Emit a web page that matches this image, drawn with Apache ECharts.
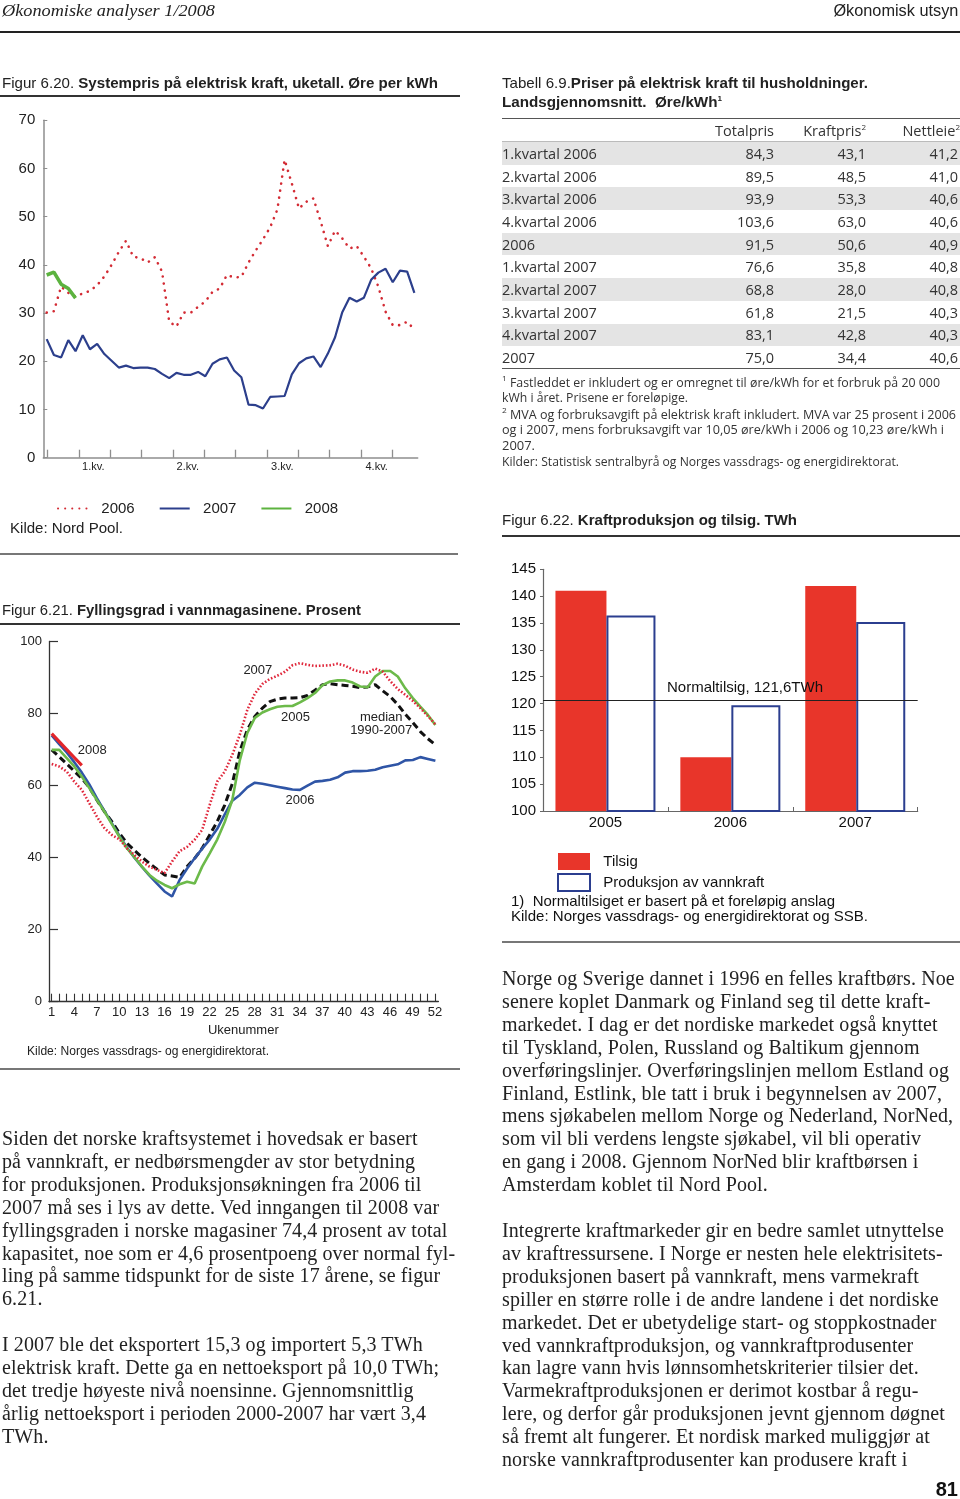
<!DOCTYPE html>
<html><head><meta charset="utf-8">
<script src="https://cdn.jsdelivr.net/npm/echarts@6/dist/echarts.min.js"></script>
<style>
html,body{margin:0;padding:0;background:#fff;}
#page{position:relative;width:960px;height:1499px;overflow:hidden;background:#fff;}
#chart{position:absolute;left:0;top:0;width:960px;height:1499px;}
.t{position:absolute;white-space:pre;color:#222;z-index:3;}
.r{position:absolute;z-index:3;}
.sup{font-size:8px;line-height:0;vertical-align:0;position:relative;top:-6px;}
</style></head>
<body><div id="page"><div id="chart"></div></div>
<script>
// ---------- DATA ----------
const weeks = [1,2,3,4,5,6,7,8,9,10,11,12,13,14,15,16,17,18,19,20,21,22,23,24,25,26,27,28,29,30,31,32,33,34,35,36,37,38,39,40,41,42,43,44,45,46,47,48,49,50,51,52];
const weeks2008 = [1,2,3,4,5];
// Figur 6.20 Systempris, øre per kWh
const price2006 = [30.1,30.4,35.5,34.2,33.4,34.1,34.6,35.8,37.6,40.0,42.7,45.0,41.7,41.4,40.5,41.6,38.6,28.2,27.2,30.1,30.1,31.3,32.4,34.4,35.1,37.9,37.4,37.5,40.5,43.0,45.3,47.8,51.5,61.8,56.9,51.7,53.1,53.8,49.0,43.9,47.1,45.5,43.4,43.9,41.7,39.3,35.5,30.3,27.5,27.5,28.2,26.6];
const price2007 = [24.6,21.3,20.8,24.4,22.1,25.4,22.5,23.6,21.5,20.1,18.7,19.1,18.6,18.7,18.7,18.4,17.4,16.5,17.6,17.2,17.2,17.8,16.9,19.5,20.4,20.8,18.1,16.7,11.0,10.9,10.2,12.6,12.7,12.8,17.3,19.6,20.6,21.0,18.8,21.6,25.0,30.2,33.2,32.4,33.2,36.9,38.4,39.2,36.4,38.8,38.6,34.2];
const price2008 = [37.9,38.5,36.0,35.1,33.1];
const quarterLabels = ['1.kv.','2.kv.','3.kv.','4.kv.'];
// Figur 6.21 Fyllingsgrad, prosent
const fill2005 = [69.9,69.9,67.6,65.3,62.5,59.3,56.0,52.8,49.3,45.8,42.6,40.1,37.5,35.2,33.6,32.4,31.5,32.6,33.3,32.8,37.5,41.2,45.0,49.9,56.0,67.0,74.6,78.8,80.3,81.2,81.9,82.1,82.1,83.1,84.3,85.7,87.9,88.9,89.2,89.2,88.6,87.5,87.3,90.3,91.8,91.8,90.3,87.0,84.3,81.9,79.6,76.8];
const fill2006 = [73.9,71.5,69.2,66.5,63.6,60.3,56.5,53.0,49.5,46.0,42.8,40.0,37.4,35.0,32.8,30.6,29.2,33.8,37.0,39.8,42.5,45.0,48.0,52.0,55.8,57.4,59.5,60.8,60.5,60.1,59.7,59.3,58.9,58.8,60.0,61.1,61.3,61.6,62.3,63.6,64.0,64.0,64.1,64.4,65.1,65.5,65.9,67.0,67.1,67.9,67.4,66.9];
const fill2007 = [66.0,65.3,63.9,61.1,58.8,55.1,51.4,48.2,46.3,45.1,42.6,40.7,38.9,37.5,36.6,35.7,38.9,41.8,43.0,45.0,47.7,54.6,61.1,63.9,68.5,74.1,81.0,85.5,88.2,89.6,90.5,91.6,93.4,94.0,93.5,93.2,93.3,93.4,93.8,93.3,92.2,91.6,91.3,92.5,91.6,89.0,86.8,85.2,83.5,81.5,79.3,77.0];
const fillMedian = [69.9,68.0,66.0,64.0,62.0,59.5,56.0,52.8,50.0,46.8,44.0,42.0,40.1,38.4,36.8,35.2,34.9,34.5,37.5,39.8,42.6,46.3,50.0,54.6,60.5,69.5,75.5,79.2,81.5,83.3,84.0,84.3,84.3,84.4,85.0,86.5,88.0,88.3,88.0,87.8,87.6,87.2,87.4,88.0,86.3,84.7,82.5,79.8,77.5,75.0,73.0,71.3];
const fill2008 = [74.4,72.2,70.0,67.8,65.6];
const fillLabelTexts = ['2008','2007','2005','median\n1990-2007','2006'];
const fillLabelWeeks = [6.4,28.4,33.4,44.8,34.0];
const fillLabelValues = [69.7,91.9,78.8,77.0,55.8];
// Figur 6.22 Kraftproduksjon og tilsig, TWh
const years = ['2005','2006','2007'];
const tilsig = [141.0,110.0,141.9];
const produksjon = [136.4,119.7,135.2];
const normaltilsig = 120.6;
// Tabell 6.9
const tableLabels = ['1.kvartal 2006','2.kvartal 2006','3.kvartal 2006','4.kvartal 2006','2006','1.kvartal 2007','2.kvartal 2007','3.kvartal 2007','4.kvartal 2007','2007'];
const totalpris = [84.3,89.5,93.9,103.6,91.5,76.6,68.8,61.8,83.1,75.0];
const kraftpris = [43.1,48.5,53.3,63.0,50.6,35.8,28.0,21.5,42.8,34.4];
const nettleie = [41.2,41.0,40.6,40.6,40.9,40.8,40.8,40.3,40.3,40.6];

// ---------- TEXT HELPERS ----------
const page = document.getElementById('page');
const SANS = "'Liberation Sans', Arial, Helvetica, sans-serif";
const NARROW = "'Liberation Sans Narrow','Liberation Sans', Arial, sans-serif";
const TBL = "'Open Sans','Noto Sans', sans-serif";
const SERIF = "'Liberation Serif','Times New Roman', serif";
function T(x, y, html, o) {
  o = o || {};
  const d = document.createElement('div');
  d.className = 't';
  const fs = o.fs || 15;
  const lh = Math.round(fs * 1.3);
  d.style.fontSize = fs + 'px';
  d.style.lineHeight = lh + 'px';
  d.style.height = lh + 'px';
  d.style.top = (y - lh / 2) + 'px';
  d.style.fontFamily = o.ff || SANS;
  if (o.fw) d.style.fontWeight = o.fw;
  if (o.fst) d.style.fontStyle = o.fst;
  if (o.color) d.style.color = o.color;
  if (o.ls) d.style.letterSpacing = o.ls + 'px';
  if (o.right) d.style.right = (960 - x) + 'px'; else d.style.left = x + 'px';
  d.innerHTML = html;
  page.appendChild(d);
  if (o.w) {
    const cw = d.getBoundingClientRect().width;
    d.style.transformOrigin = o.right ? 'right center' : 'left center';
    d.style.transform = 'scaleX(' + (o.w / cw).toFixed(4) + ')';
  }
  return d;
}
function R(x1, x2, y, h, c) {
  const d = document.createElement('div');
  d.className = 'r';
  d.style.left = x1 + 'px'; d.style.width = (x2 - x1) + 'px';
  d.style.top = (y - h / 2) + 'px'; d.style.height = h + 'px';
  d.style.background = c;
  page.appendChild(d);
}
const fmt = v => v.toFixed(1).replace('.', ',');
const sup = s => '<span class="sup">' + s + '</span>';

// header
T(2, 11, 'Økonomiske analyser 1/2008', {fs:17, ff:SERIF, fst:'italic', w:213});
T(958, 11, 'Økonomisk utsyn', {fs:17, ff:NARROW, right:true, w:125});
R(0, 960, 32, 2.5, '#222');

// Figur 6.20 caption
T(2, 83, 'Figur 6.20. <b>Systempris på elektrisk kraft, uketall. Øre per kWh</b>', {fs:15, ff:NARROW, w:436});
R(0, 460, 96, 1.5, '#333');
T(10, 528, 'Kilde: Nord Pool.', {fs:15, ff:SANS, w:113});
R(0, 458, 554, 2.5, '#777');

// Tabell 6.9
T(502, 83, 'Tabell 6.9.<b>Priser på elektrisk kraft til husholdninger.</b>', {fs:15, ff:NARROW, w:366});
T(502, 101.5, '<b>Landsgjennomsnitt.&nbsp; Øre/kWh' + sup('1') + '</b>', {fs:15, ff:NARROW, w:220});
R(502, 960, 118.5, 1.5, '#555');
R(502, 960, 141, 0.8, '#bbb');
const rowY0 = 153.3, rowH = 22.7;
for (let i = 0; i < tableLabels.length; i++) {
  const y = rowY0 + i * rowH;
  if (i % 2 === 0) R(502, 960, y, rowH, '#e4e4e4');
}
R(502, 960, 368.5, 1.5, '#555');
const TS = {fs:14.5, ff:TBL, color:'#333'};
T(774, 130, 'Totalpris', Object.assign({right:true}, TS));
T(866, 130, 'Kraftpris' + sup('2'), Object.assign({right:true}, TS));
T(960, 130, 'Nettleie' + sup('2'), Object.assign({right:true}, TS));
for (let i = 0; i < tableLabels.length; i++) {
  const y = rowY0 + i * rowH;
  T(502, y, tableLabels[i], TS);
  T(774, y, fmt(totalpris[i]), Object.assign({right:true}, TS));
  T(866, y, fmt(kraftpris[i]), Object.assign({right:true}, TS));
  T(958, y, fmt(nettleie[i]), Object.assign({right:true}, TS));
}
const FS = {fs:12, ff:TBL, color:'#333'};
T(502, 382.5, sup('1') + ' Fastleddet er inkludert og er omregnet til øre/kWh for et forbruk på 20 000', Object.assign({w:438}, FS));
T(502, 398, 'kWh i året. Prisene er foreløpige.', Object.assign({w:186}, FS));
T(502, 414.5, sup('2') + ' MVA og forbruksavgift på elektrisk kraft inkludert. MVA var 25 prosent i 2006', Object.assign({w:454}, FS));
T(502, 430, 'og i 2007, mens forbruksavgift var 10,05 øre/kWh i 2006 og 10,23 øre/kWh i', Object.assign({w:442}, FS));
T(502, 445.5, '2007.', Object.assign({w:33}, FS));
T(502, 462, 'Kilder: Statistisk sentralbyrå og Norges vassdrags- og energidirektorat.', Object.assign({w:397}, FS));

// Figur 6.22 caption + notes
T(502, 520, 'Figur 6.22. <b>Kraftproduksjon og tilsig. TWh</b>', {fs:15, ff:NARROW, w:295});
R(502, 960, 536, 1.5, '#333');
T(667, 687, 'Normaltilsig, 121,6TWh', {fs:15, ff:SANS, color:'#111', w:156});
T(511, 901, '1)&nbsp; Normaltilsiget er basert på et foreløpig anslag', {fs:15, ff:SANS, color:'#111', w:324});
T(511, 916, 'Kilde: Norges vassdrags- og energidirektorat og SSB.', {fs:15, ff:SANS, color:'#111', w:357});
R(502, 960, 942, 2, '#777');

// Figur 6.21 caption + notes
T(2, 610, 'Figur 6.21. <b>Fyllingsgrad i vannmagasinene. Prosent</b>', {fs:15, ff:NARROW, w:359});
R(0, 460, 624, 1.5, '#333');
T(27, 1051, 'Kilde: Norges vassdrags- og energidirektorat.', {fs:12, ff:SANS, w:242});
R(0, 460, 1069, 2.5, '#777');

// Body text
const leftPara1 = ['Siden det norske kraftsystemet i hovedsak er basert','på vannkraft, er nedbørsmengder av stor betydning','for produksjonen. Produksjonsøkningen fra 2006 til','2007 må ses i lys av dette. Ved inngangen til 2008 var','fyllingsgraden i norske magasiner 74,4 prosent av total','kapasitet, noe som er 4,6 prosentpoeng over normal fyl-','ling på samme tidspunkt for de siste 17 årene, se figur','6.21.'];
const leftPara2 = ['I 2007 ble det eksportert 15,3 og importert 5,3 TWh','elektrisk kraft. Dette ga en nettoeksport på 10,0 TWh;','det tredje høyeste nivå noensinne. Gjennomsnittlig','årlig nettoeksport i perioden 2000-2007 har vært 3,4','TWh.'];
const rightPara1 = ['Norge og Sverige dannet i 1996 en felles kraftbørs. Noe','senere koplet Danmark og Finland seg til dette kraft-','markedet. I dag er det nordiske markedet også knyttet','til Tyskland, Polen, Russland og Baltikum gjennom','overføringslinjer. Overføringslinjen mellom Estland og','Finland, Estlink, ble tatt i bruk i begynnelsen av 2007,','mens sjøkabelen mellom Norge og Nederland, NorNed,','som vil bli verdens lengste sjøkabel, vil bli operativ','en gang i 2008. Gjennom NorNed blir kraftbørsen i','Amsterdam koblet til Nord Pool.'];
const rightPara2 = ['Integrerte kraftmarkeder gir en bedre samlet utnyttelse','av kraftressursene. I Norge er nesten hele elektrisitets-','produksjonen basert på vannkraft, mens varmekraft','spiller en større rolle i de andre landene i det nordiske','markedet. Det er ubetydelige start- og stoppkostnader','ved vannkraftproduksjon, og vannkraftprodusenter','kan lagre vann hvis lønnsomhetskriterier tilsier det.','Varmekraftproduksjonen er derimot kostbar å regu-','lere, og derfor går produksjonen jevnt gjennom døgnet','så fremt alt fungerer. Et nordisk marked muliggjør at','norske vannkraftprodusenter kan produsere kraft i'];
const LH = 22.9;
const BS = {fs:20, ff:SERIF, color:'#222', ls:0.1};
leftPara1.forEach((s, i) => T(2, 1138 + i * LH, s, BS));
leftPara2.forEach((s, i) => T(2, 1344 + i * LH, s, BS));
rightPara1.forEach((s, i) => T(502, 978 + i * LH, s, BS));
rightPara2.forEach((s, i) => T(502, 1230 + i * LH, s, BS));
T(958, 1489, '81', {fs:20, ff:SANS, fw:'bold', right:true, color:'#111'});

// ---------- CHARTS ----------
const pair = (xs, ys) => ys.map((v, i) => [xs[i], v]);
const chart = echarts.init(document.getElementById('chart'), null, {renderer:'canvas', width:960, height:1499});
const noAxis = {show:false};
const option = {
  animation: false,
  backgroundColor: '#fff',
  textStyle: {fontFamily: SANS},
  grid: [
    {left:43.3, top:120.3, width:374.4, height:337.4},   // 0 fig 6.20 data
    {left:47.7, top:120.3, width:344.6, height:337.4},   // 1 fig 6.20 month ticks
    {left:93.3, top:120.3, width:283.4, height:337.4},   // 2 fig 6.20 quarter labels
    {left:49, top:641.5, width:389.4, height:360.2},     // 3 fig 6.21 data
    {left:51.7, top:641.5, width:383.3, height:360.2},   // 4 fig 6.21 week ticks
    {left:543, top:569.3, width:374.7, height:241.7}     // 5 fig 6.22
  ],
  xAxis: [
    {gridIndex:0, type:'value', min:0.53, max:52.46, axisLine:{show:true, lineStyle:{color:'#8e8e8e', width:1.5}}, axisTick:{show:false}, axisLabel:{show:false}, splitLine:{show:false}},
    {gridIndex:1, type:'value', min:0, max:11, interval:1, axisLine:{show:false}, axisTick:{show:true, inside:true, length:8, lineStyle:{color:'#8e8e8e', width:1.3}}, axisLabel:{show:false}, splitLine:{show:false}},
    {gridIndex:2, type:'value', min:0, max:9, interval:3, axisLine:{show:false}, axisTick:{show:false}, splitLine:{show:false},
      axisLabel:{show:true, fontSize:11, color:'#222', margin:4, formatter: v => quarterLabels[Math.round(v / 3)] || ''}},
    {gridIndex:3, type:'value', min:0.64, max:52.4, axisLine:{show:true, lineStyle:{color:'#333', width:1.3}}, axisTick:{show:false}, axisLabel:{show:false}, splitLine:{show:false}},
    {gridIndex:4, type:'value', min:1, max:52, interval:1, axisLine:{show:false}, axisTick:{show:true, inside:true, length:8, lineStyle:{color:'#333', width:1.1}}, splitLine:{show:false},
      axisLabel:{show:true, fontSize:13, color:'#222', margin:4, formatter: v => ((Math.round(v) - 1) % 3 === 0 ? String(Math.round(v)) : '')},
      name:'Ukenummer', nameLocation:'middle', nameGap:22, nameTextStyle:{fontSize:13, color:'#222'}},
    {gridIndex:5, type:'category', data:years, axisLine:{show:true, lineStyle:{color:'#666', width:1.2}}, axisTick:{show:true, inside:true, length:4, lineStyle:{color:'#666'}},
      axisLabel:{fontSize:15, color:'#111', margin:4}, splitLine:{show:false}}
  ],
  yAxis: [
    {gridIndex:0, type:'value', min:0, max:70, interval:10, axisLine:{show:true, lineStyle:{color:'#8e8e8e', width:1.5}}, axisTick:{show:true, inside:true, length:4, lineStyle:{color:'#8e8e8e'}}, axisLabel:{fontSize:15, color:'#222', margin:8}, splitLine:{show:false}},
    Object.assign({gridIndex:1, type:'value', min:0, max:70}, noAxis),
    Object.assign({gridIndex:2, type:'value', min:0, max:70}, noAxis),
    {gridIndex:3, type:'value', min:0, max:100, interval:20, axisLine:{show:true, lineStyle:{color:'#333', width:1.3}}, axisTick:{show:true, inside:true, length:9, lineStyle:{color:'#333', width:1.2}}, axisLabel:{fontSize:13, color:'#222', margin:7}, splitLine:{show:false}},
    Object.assign({gridIndex:4, type:'value', min:0, max:100}, noAxis),
    {gridIndex:5, type:'value', min:100, max:145, interval:5, axisLine:{show:true, lineStyle:{color:'#666', width:1.2}}, axisTick:{show:true, length:3, lineStyle:{color:'#666'}}, axisLabel:{fontSize:15, color:'#111', margin:7}, splitLine:{show:false}}
  ],
  legend: [
    {data:['2006','2007','2008'], left:52, top:496, itemWidth:30, itemHeight:14, itemGap:24,
      itemStyle:{opacity:0},
      formatter: n => '  ' + n, textStyle:{fontSize:15, color:'#222', fontFamily:SANS}},
    {data:['Tilsig','Produksjon av vannkraft'], orient:'vertical', left:552, top:848, itemWidth:32, itemHeight:17, itemGap:3, icon:'rect',
      formatter: n => '  ' + n, textStyle:{fontSize:15, color:'#111', fontFamily:SANS}}
  ],
  series: [
    {name:'2006', type:'line', xAxisIndex:0, yAxisIndex:0, data:pair(weeks, price2006), symbol:'none', z:3,
      lineStyle:{color:'#d32b34', width:2.6, type:[0.1, 7], cap:'round'}, itemStyle:{color:'#d32b34'}},
    {name:'2007', type:'line', xAxisIndex:0, yAxisIndex:0, data:pair(weeks, price2007), symbol:'none', z:4,
      lineStyle:{color:'#2c3f8c', width:2.2}, itemStyle:{color:'#2c3f8c'}},
    {name:'2008', type:'line', xAxisIndex:0, yAxisIndex:0, data:pair(weeks2008, price2008), symbol:'none', z:5,
      lineStyle:{color:'#5cb33f', width:3.6}, itemStyle:{color:'#5cb33f'}},

    {name:'median 1990-2007', type:'line', xAxisIndex:3, yAxisIndex:3, data:pair(weeks, fillMedian), symbol:'none', z:3,
      lineStyle:{color:'#111', width:3, type:[7, 4]},
      markPoint:{symbol:'circle', symbolSize:0, silent:true,
        label:{show:true, position:'inside', fontSize:13, color:'#222', lineHeight:13, fontFamily:SANS, formatter: p => p.name},
        data: fillLabelTexts.map((s, i) => ({name:s, coord:[fillLabelWeeks[i], fillLabelValues[i]]}))}},
    {name:'F2006', type:'line', xAxisIndex:3, yAxisIndex:3, data:pair(weeks, fill2006), symbol:'none', z:4,
      lineStyle:{color:'#2f55a6', width:2.6}},
    {name:'F2005', type:'line', xAxisIndex:3, yAxisIndex:3, data:pair(weeks, fill2005), symbol:'none', z:5,
      lineStyle:{color:'#6cba4a', width:2.6}},
    {name:'F2007', type:'line', xAxisIndex:3, yAxisIndex:3, data:pair(weeks, fill2007), symbol:'none', z:6,
      lineStyle:{color:'#e0283c', width:2.6, type:[1.6, 1.9]}},
    {name:'F2008', type:'line', xAxisIndex:3, yAxisIndex:3, data:pair(weeks2008, fill2008), symbol:'none', z:7,
      lineStyle:{color:'#e2262b', width:3.2}},

    {name:'Tilsig', type:'bar', xAxisIndex:5, yAxisIndex:5, data:tilsig, barWidth:51, barGap:'0%',
      itemStyle:{color:'#e8352a'}},
    {name:'Produksjon av vannkraft', type:'bar', xAxisIndex:5, yAxisIndex:5, data:produksjon, barWidth:49,
      itemStyle:{color:'#ffffff', borderColor:'#2b3e8f', borderWidth:2},
      markLine:{silent:true, symbol:'none', z:10, label:{show:false}, lineStyle:{color:'#222', width:1, type:'solid'},
        data:[{yAxis:normaltilsig}]}}
  ]
};
chart.setOption(option);
</script>
</body></html>
